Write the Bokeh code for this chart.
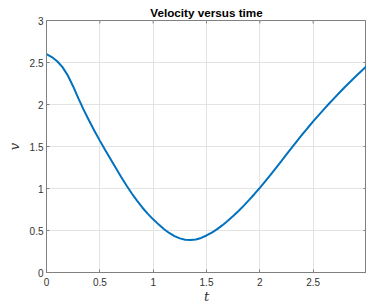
import math
from bokeh.plotting import figure
from bokeh.models import Range1d, FixedTicker
from bokeh.embed import file_html
from bokeh.resources import INLINE

t = [0.0, 0.05, 0.1, 0.15, 0.2, 0.25, 0.3, 0.35, 0.4, 0.45, 0.5, 0.55, 0.6, 0.65,
     0.7, 0.75, 0.8, 0.85, 0.9, 0.95, 1.0, 1.05, 1.1, 1.15, 1.2, 1.25, 1.3, 1.35,
     1.4, 1.45, 1.5, 1.55, 1.6, 1.65, 1.7, 1.75, 1.8, 1.85, 1.9, 1.95, 2.0, 2.05,
     2.1, 2.15, 2.2, 2.25, 2.3, 2.35, 2.4, 2.45, 2.5, 2.55, 2.6, 2.65, 2.7, 2.75,
     2.8, 2.85, 2.9, 2.95, 3.0]
v = [2.60, 2.565, 2.515, 2.445, 2.345, 2.215, 2.07, 1.933, 1.806, 1.685, 1.57, 1.458, 1.35, 1.243,
     1.138, 1.036, 0.941, 0.852, 0.771, 0.698, 0.633, 0.573, 0.518, 0.471, 0.434, 0.406, 0.39, 0.386,
     0.3925, 0.4115, 0.4405, 0.4755, 0.5165, 0.5635, 0.6155, 0.672, 0.7325, 0.7965, 0.864, 0.935, 1.0085, 1.0845,
     1.1625, 1.2425, 1.3235, 1.405, 1.4865, 1.567, 1.646, 1.723, 1.798, 1.871, 1.942, 2.0115, 2.0795, 2.146,
     2.211, 2.2745, 2.3365, 2.397, 2.456]
x_ticks = [0, 0.5, 1, 1.5, 2, 2.5, 3]
y_ticks = [0, 0.5, 1, 1.5, 2, 2.5, 3]
x_min, x_max = 0, 3
y_min, y_max = 0, 3

AX = "#808080"
TXT = "#333333"

p = figure(frame_width=320, frame_height=252, output_backend="svg", toolbar_location=None,
           x_range=Range1d(x_min, x_max), y_range=Range1d(y_min, y_max),
           min_border_left=46, min_border_right=0, min_border_top=20, min_border_bottom=0,
           title="Velocity versus time")
p.title.align = "center"
p.title.offset = 5
p.title.text_font = "Liberation Sans"
p.title.text_font_size = "11.7px"
p.title.text_font_style = "bold"
p.title.text_color = "#000000"
p.title.standoff = 4

p.line(t, v, line_color="#0072BD", line_width=2)

# box ticks on the top and right edges (half of each dash is clipped by the frame)
p.scatter(x=x_ticks, y=[y_max] * len(x_ticks), marker="dash", size=6, angle=math.pi / 2,
          line_color=AX, line_width=1)
p.scatter(x=[x_max] * len(y_ticks), y=y_ticks, marker="dash", size=6,
          line_color=AX, line_width=1)

for ax in (p.xaxis[0], p.yaxis[0]):
    ax.axis_line_color = AX
    ax.major_tick_line_color = AX
    ax.major_tick_in = 3
    ax.major_tick_out = 0
    ax.minor_tick_line_color = None
    ax.major_label_text_font = "Liberation Sans"
    ax.major_label_text_font_size = "10px"
    ax.major_label_text_color = TXT
    ax.axis_label_text_font = "DejaVu Serif"
    ax.axis_label_text_font_style = "italic"
    ax.axis_label_text_font_size = "13px"
    ax.axis_label_text_color = TXT

p.xaxis[0].major_label_standoff = 5
p.xaxis[0].axis_label_standoff = 0
p.yaxis[0].major_label_standoff = 3
p.yaxis[0].axis_label_standoff = 5

p.xaxis[0].ticker = FixedTicker(ticks=x_ticks)
p.yaxis[0].ticker = FixedTicker(ticks=y_ticks)
p.xaxis[0].axis_label = "t"
p.yaxis[0].axis_label = "v"
p.xaxis[0].major_label_overrides = {3: ""}

p.xgrid.ticker = FixedTicker(ticks=x_ticks)
p.ygrid.ticker = FixedTicker(ticks=y_ticks)
p.grid.grid_line_color = "#e3e3e3"
p.outline_line_color = AX
p.background_fill_color = "white"
p.border_fill_color = "white"

open("out.html", "w").write(file_html(p, INLINE))
